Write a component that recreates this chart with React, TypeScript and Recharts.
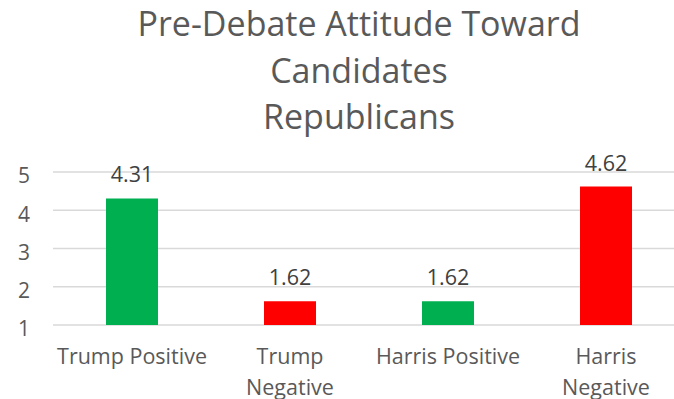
import { BarChart, Bar, XAxis, YAxis, CartesianGrid, Cell, LabelList } from "recharts"

const categories = ["Trump Positive", "Trump Negative", "Harris Positive", "Harris Negative"]
const tickLines = [["Trump Positive"], ["Trump", "Negative"], ["Harris Positive"], ["Harris", "Negative"]]
const scores = [4.31, 1.62, 1.62, 4.62]
const barColors = ["#00B050", "#FF0000", "#00B050", "#FF0000"]
const yTicks = [1, 2, 3, 4, 5]
const titleLines = ["Pre-Debate Attitude Toward", "Candidates", "Republicans"]

const data = categories.map((name, i) => ({ name, value: scores[i] }))

const FONT = "'Open Sans', 'Liberation Sans', sans-serif"

function CategoryTick(props: any) {
  const { x, y, payload } = props
  const lines = tickLines[categories.indexOf(payload.value)] || [payload.value]
  return (
    <text x={x} y={y} textAnchor="middle" fill="#595959" fontSize={21.5} fontFamily={FONT}>
      {lines.map((line, i) => (
        <tspan key={i} x={x} dy={i === 0 ? 31 : 31}>
          {line}
        </tspan>
      ))}
    </text>
  )
}

export default function App() {
  return (
    <div
      style={{
        position: "fixed",
        left: 0,
        top: 0,
        width: 674,
        height: 399,
        overflow: "hidden",
        background: "#fff",
      }}
    >
      <div
        style={{
          position: "absolute",
          left: 0,
          top: 0,
          width: 718,
          textAlign: "center",
          fontFamily: FONT,
          fontSize: 34,
          lineHeight: "46.5px",
          color: "#595959",
        }}
      >
        {titleLines.map((t) => (
          <div key={t}>{t}</div>
        ))}
      </div>
      <BarChart
        width={718}
        height={399}
        data={data}
        margin={{ top: 172, right: 33, bottom: 0, left: 0 }}
        barSize={52}
      >
        <CartesianGrid vertical={false} stroke="#d9d9d9" strokeWidth={1.5} />
        <XAxis
          dataKey="name"
          axisLine={false}
          tickLine={false}
          height={74}
          interval={0}
          tick={<CategoryTick />}
        />
        <YAxis
          domain={[1, 5]}
          ticks={yTicks}
          axisLine={false}
          tickLine={false}
          width={53}
          tick={{ fill: "#595959", fontSize: 21, fontFamily: FONT, textAnchor: "middle", dx: -21, dy: 4 }}
          interval={0}
        />
        <Bar dataKey="value" isAnimationActive={false}>
          {data.map((d, i) => (
            <Cell key={d.name} fill={barColors[i]} />
          ))}
          <LabelList
            dataKey="value"
            position="top"
            offset={16}
            fill="#404040"
            fontSize={21.5}
            fontFamily={FONT}
            formatter={(v: any) => Number(v).toFixed(2)}
          />
        </Bar>
      </BarChart>
    </div>
  )
}
